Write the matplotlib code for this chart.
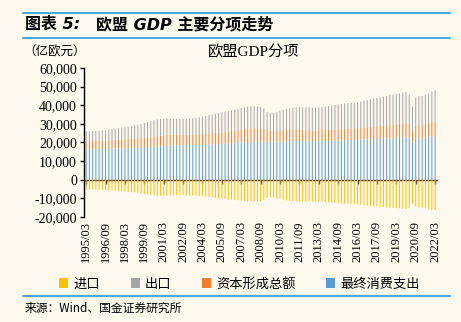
import matplotlib.pyplot as plt
import numpy as np
from matplotlib.lines import Line2D
from matplotlib.patches import Patch
from matplotlib.ticker import FuncFormatter

plt.rcParams['font.family'] = ['Liberation Serif', 'Noto Sans CJK SC', 'DejaVu Sans']
plt.rcParams['axes.unicode_minus'] = False

# ====================== 数据（亿欧元，季度 1995Q1-2022Q1） ======================
quarters = [f'{y}/{m:02d}' for y in range(1995, 2023) for m in (3, 6, 9, 12)][:109]

consumption = [
    16200, 16300, 16350, 16400, 16450, 16500, 16600, 16650, 16700, 16750,
    16800, 16850, 16900, 17000, 17100, 17200, 17300, 17400, 17500, 17600,
    17700, 17800, 17900, 18000, 18100, 18250, 18350, 18400, 18450, 18500,
    18550, 18600, 18650, 18700, 18750, 18800, 18900, 18950, 19000, 19100,
    19200, 19250, 19300, 19450, 19550, 19650, 19800, 19900, 20000, 20150,
    20300, 20400, 20500, 20600, 20650, 20600, 20400, 20400, 20450, 20500,
    20550, 20600, 20650, 20700, 20700, 20750, 20750, 20750, 20700, 20700,
    20700, 20750, 20750, 20800, 20850, 20900, 20950, 21000, 21050, 21100,
    21200, 21300, 21350, 21400, 21450, 21500, 21600, 21650, 21700, 21800,
    21900, 21950, 22050, 22150, 22250, 22350, 22450, 22550, 22650, 22750,
    22300, 20500, 22100, 22000, 22200, 22700, 23000, 23300, 23400,
]
capital = [
    4400, 4450, 4450, 4500, 4500, 4550, 4550, 4600, 4600, 4650,
    4700, 4750, 4800, 4850, 4900, 4950, 5000, 5050, 5100, 5200,
    5300, 5400, 5500, 5600, 5700, 5800, 5850, 5800, 5750, 5700,
    5700, 5650, 5650, 5650, 5700, 5700, 5750, 5800, 5850, 5900,
    6000, 6100, 6200, 6300, 6400, 6500, 6600, 6700, 6800, 6900,
    6950, 7000, 7000, 7000, 6950, 6800, 6300, 5900, 5800, 5800,
    5850, 5900, 6000, 6050, 6100, 6100, 6050, 6000, 5900, 5850,
    5800, 5800, 5800, 5800, 5850, 5900, 5950, 6000, 6000, 6050,
    6100, 6100, 6150, 6200, 6250, 6300, 6400, 6500, 6600, 6700,
    6800, 6900, 7000, 7050, 7150, 7250, 7350, 7450, 7600, 7800,
    7600, 5600, 7000, 7100, 7100, 7300, 7500, 7700, 7800,
]
exports = [
    5300, 5250, 5300, 5300, 5350, 5450, 5550, 5650, 5800, 5900,
    6100, 6300, 6500, 6650, 6800, 7050, 7300, 7550, 7900, 8200,
    8500, 8700, 8900, 9000, 9000, 8850, 8700, 8500, 8400, 8400,
    8450, 8550, 8600, 8650, 8750, 9000, 9150, 9450, 9750, 10000,
    10200, 10450, 10700, 10850, 11050, 11150, 11300, 11500, 11700, 11850,
    11950, 12000, 11900, 11700, 11500, 10900, 9600, 9500, 9650, 10100,
    10600, 11000, 11350, 11650, 11900, 12050, 12200, 12150, 12200, 12250,
    12200, 12250, 12350, 12400, 12500, 12700, 12900, 13100, 13350, 13550,
    13700, 13800, 13800, 13800, 14000, 14200, 14400, 14650, 14900, 15000,
    15200, 15350, 15550, 15700, 15900, 16100, 16200, 16400, 16450, 16450,
    15700, 13200, 14800, 15700, 15600, 15700, 15900, 16400, 16800,
]
imports = [
    -5200, -5250, -5300, -5350, -5400, -5450, -5550, -5650, -5750, -5850,
    -6000, -6150, -6300, -6450, -6600, -6800, -7000, -7200, -7500, -7800,
    -8100, -8300, -8500, -8600, -8600, -8500, -8400, -8300, -8200, -8200,
    -8250, -8350, -8400, -8450, -8550, -8750, -8900, -9150, -9400, -9600,
    -9800, -10000, -10200, -10350, -10550, -10650, -10850, -11050, -11250, -11400,
    -11500, -11600, -11600, -11500, -11400, -10900, -9700, -9300, -9450, -9900,
    -10400, -10800, -11100, -11400, -11600, -11700, -11800, -11700, -11700, -11700,
    -11600, -11700, -11800, -11800, -11900, -12100, -12200, -12400, -12600, -12700,
    -12800, -12900, -12900, -13000, -13200, -13400, -13600, -13800, -14000, -14100,
    -14300, -14500, -14600, -14800, -14900, -15100, -15200, -15300, -15500, -15700,
    -15100, -12700, -14300, -14800, -14800, -15200, -15700, -16100, -16400,
]

series_names = ['进口', '出口', '资本形成总额', '最终消费支出']
colors = {'进口': '#FFC000', '出口': '#A5A5A5', '资本形成总额': '#ED7D31', '最终消费支出': '#5B9BD5'}
bg = '#FEF9EE'

# ====================== 绘图 ======================
fig = plt.figure(figsize=(4.61, 3.22), dpi=100, facecolor=bg)
ax = fig.add_axes([0.182, 0.326, 0.766, 0.463], facecolor=bg)

x = np.arange(len(quarters))
w = 0.3
c = np.array(consumption)
k = np.array(capital)
e = np.array(exports)
m = np.array(imports)
bar_kw = dict(linewidth=0, snap=False)
ax.bar(x, c, w, color=colors['最终消费支出'], **bar_kw)
ax.bar(x, k, w, bottom=c, color=colors['资本形成总额'], **bar_kw)
ax.bar(x, e, w, bottom=c + k, color=colors['出口'], **bar_kw)
ax.bar(x, m, w, color=colors['进口'], **bar_kw)

ax.set_xlim(-0.7, len(quarters) - 0.4)
ax.set_ylim(-20000, 60000)
ax.set_yticks(range(-20000, 60001, 10000))
ax.yaxis.set_major_formatter(FuncFormatter(lambda v, p: f'{int(v):,}'))
ax.tick_params(axis='y', direction='out', length=3, width=1, labelsize=10, pad=2)

tick_pos = x[::6]
ax.set_xticks(tick_pos)
ax.set_xticklabels([quarters[i] for i in tick_pos], rotation=90, fontsize=9)
ax.tick_params(axis='x', length=0, pad=3)

for s in ['top', 'right', 'bottom']:
    ax.spines[s].set_visible(False)
ax.spines['left'].set_linewidth(1)

# 零线（带刻度）
sec = ax.secondary_xaxis(0.25)
sec.set_xticks(tick_pos)
sec.set_xticklabels([])
sec.tick_params(direction='out', length=3, width=1, color='#404040')
sec.spines['bottom'].set_color('#404040')
sec.spines['bottom'].set_linewidth(1)

# ====================== 文字 ======================
fig.text(0.551, 0.839, '欧盟GDP分项', fontsize=11, ha='center', va='center')
fig.text(0.05, 0.839, '（亿欧元）', fontsize=9, ha='left', va='center',
         family=['Noto Sans CJK SC'])

head_font = ['DejaVu Sans', 'Noto Sans CJK SC']
fig.text(0.054, 0.925, '图表 5:', fontsize=11.5, fontweight='bold', style='italic',
         ha='left', va='center', family=head_font)
fig.text(0.208, 0.925, '欧盟 GDP 主要分项走势', fontsize=11.5, fontweight='bold',
         style='italic', ha='left', va='center', family=head_font)

line_c = '#2A9AD8'
fig.add_artist(Line2D([0.05, 0.977], [0.959, 0.959], color=line_c, lw=1.2))
fig.add_artist(Line2D([0.05, 0.977], [0.881, 0.881], color=line_c, lw=1.2))
fig.add_artist(Line2D([0.05, 0.977], [0.081, 0.081], color=line_c, lw=1.2))

fig.text(0.054, 0.044, '来源：Wind、国金证券研究所', fontsize=8.5, ha='left', va='center',
         family=['Noto Sans CJK SC'])

handles = [Patch(facecolor=colors[n], edgecolor='none') for n in series_names]
fig.legend(handles, series_names, loc='center', bbox_to_anchor=(0.52, 0.118), ncol=4,
           frameon=False, handlelength=0.7, handleheight=0.7,
           handletextpad=0.4, columnspacing=2.3,
           prop={'family': ['Noto Sans CJK SC'], 'size': 9.5})

fig.savefig('out.png', dpi=100, facecolor=bg)
